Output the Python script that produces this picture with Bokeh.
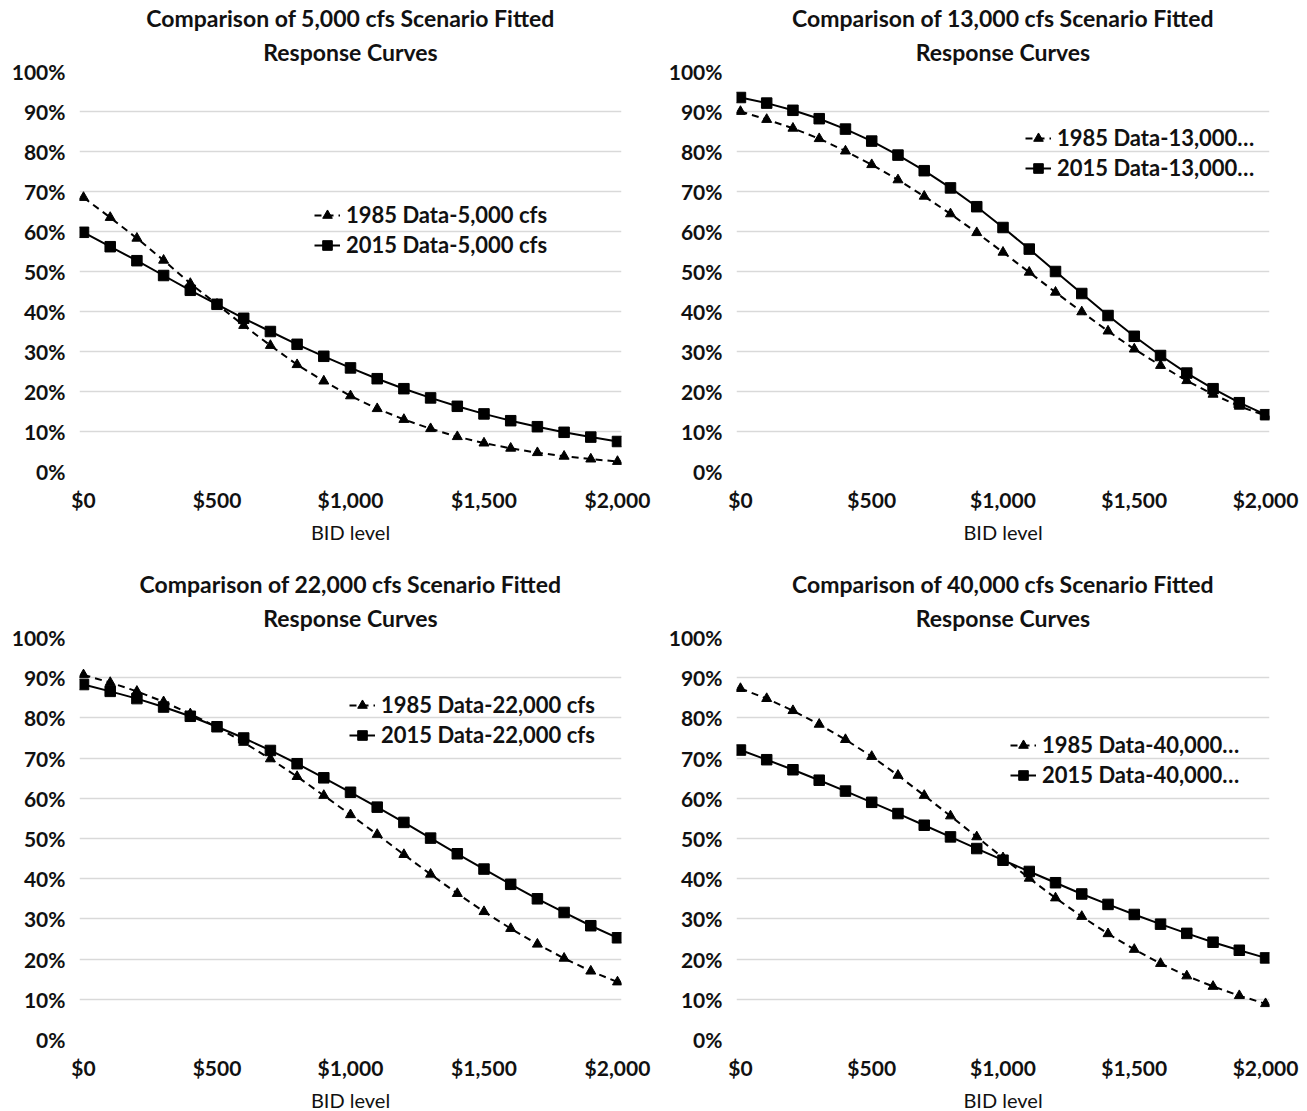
from bokeh.plotting import figure
from bokeh.layouts import column, row
from bokeh.models import (Range1d, Title, Legend, LegendItem, FixedTicker,
                          PrintfTickFormatter, NumeralTickFormatter)
from bokeh.embed import file_html
from bokeh.resources import INLINE

bid = [0, 100, 200, 300, 400, 500, 600, 700, 800, 900, 1000,
       1100, 1200, 1300, 1400, 1500, 1600, 1700, 1800, 1900, 2000]

s5k_1985 = [68.5, 63.5, 58.3, 52.8, 47.0, 41.8, 36.5, 31.5, 26.7, 22.6, 18.9,
            15.7, 13.0, 10.7, 8.7, 7.1, 5.8, 4.7, 3.8, 3.1, 2.5]
s5k_2015 = [59.8, 56.2, 52.7, 49.0, 45.3, 41.8, 38.3, 35.0, 31.8, 28.8, 25.9,
            23.2, 20.7, 18.4, 16.3, 14.4, 12.7, 11.2, 9.8, 8.6, 7.5]

s13k_1985 = [90.0, 88.0, 85.8, 83.2, 80.1, 76.7, 72.9, 68.8, 64.4, 59.7, 54.8,
             49.8, 44.8, 39.9, 35.1, 30.6, 26.5, 22.7, 19.3, 16.3, 14.0]
s13k_2015 = [93.5, 92.1, 90.3, 88.2, 85.6, 82.6, 79.1, 75.2, 70.9, 66.2, 61.0,
             55.6, 50.0, 44.5, 39.0, 33.8, 29.0, 24.6, 20.7, 17.2, 14.2]

s22k_1985 = [90.7, 88.8, 86.6, 84.0, 81.0, 77.7, 73.9, 69.8, 65.4, 60.7, 55.9,
             51.0, 46.0, 41.1, 36.3, 31.8, 27.6, 23.7, 20.2, 17.0, 14.3]
s22k_2015 = [88.3, 86.6, 84.8, 82.7, 80.4, 77.8, 75.0, 71.9, 68.6, 65.1, 61.5,
             57.8, 54.0, 50.1, 46.2, 42.4, 38.6, 35.0, 31.6, 28.3, 25.3]

s40k_1985 = [87.3, 84.8, 81.8, 78.4, 74.6, 70.4, 65.7, 60.7, 55.6, 50.4, 45.2,
             40.1, 35.2, 30.6, 26.3, 22.4, 18.9, 15.8, 13.2, 10.9, 8.9]
s40k_2015 = [72.0, 69.6, 67.1, 64.5, 61.8, 59.0, 56.2, 53.3, 50.4, 47.5, 44.6,
             41.8, 39.0, 36.2, 33.6, 31.1, 28.7, 26.4, 24.2, 22.2, 20.3]

titles = ["Comparison of 5,000 cfs Scenario Fitted",
          "Comparison of 13,000 cfs Scenario Fitted",
          "Comparison of 22,000 cfs Scenario Fitted",
          "Comparison of 40,000 cfs Scenario Fitted"]
subtitle = "Response Curves"
labels_1985 = ["1985 Data-5,000 cfs", "1985 Data-13,000\u2026",
               "1985 Data-22,000 cfs", "1985 Data-40,000\u2026"]
labels_2015 = ["2015 Data-5,000 cfs", "2015 Data-13,000\u2026",
               "2015 Data-22,000 cfs", "2015 Data-40,000\u2026"]
x_ticks = [0, 500, 1000, 1500, 2000]
y_ticks = [0, 10, 20, 30, 40, 50, 60, 70, 80, 90, 100]
x_label = "BID level"

FONT = "Lato"
TXT = "#111111"


def make_panel(idx, y85, y15, fw, fh, bl, br, bt, bb, leg_xy):
    p = figure(frame_width=fw, frame_height=fh,
               min_border_left=bl, min_border_right=br,
               min_border_top=bt, min_border_bottom=bb,
               output_backend="svg", toolbar_location=None,
               x_range=Range1d(-15, 2015), y_range=Range1d(0, 100))
    p.outline_line_color = None
    p.add_layout(Title(text=subtitle, align="center", text_font=FONT,
                       text_font_size="23px", text_font_style="bold",
                       text_color=TXT, standoff=11), "above")
    p.add_layout(Title(text=titles[idx], align="center", text_font=FONT,
                       text_font_size="23px", text_font_style="bold",
                       text_color=TXT, standoff=-2), "above")

    r1l = p.line(bid, y85, line_color="black", line_width=2, line_dash="7 5")
    r1m = p.scatter(bid, y85, marker="triangle", size=10, color="black")
    r2l = p.line(bid, y15, line_color="black", line_width=2)
    r2m = p.scatter(bid, y15, marker="square", size=10.5, color="black")

    legend = Legend(items=[LegendItem(label=labels_1985[idx], renderers=[r1l, r1m]),
                           LegendItem(label=labels_2015[idx], renderers=[r2l, r2m])],
                    location=leg_xy, padding=0, margin=0, spacing=3,
                    glyph_width=26, glyph_height=24, label_height=24,
                    label_standoff=6,
                    label_text_font=FONT, label_text_font_size="22px",
                    label_text_font_style="bold", label_text_color=TXT,
                    border_line_color=None, background_fill_alpha=0)
    p.add_layout(legend, "center")

    p.xaxis.ticker = FixedTicker(ticks=x_ticks)
    p.xaxis.formatter = NumeralTickFormatter(format="$0,0")
    p.yaxis.ticker = FixedTicker(ticks=y_ticks)
    p.yaxis.formatter = PrintfTickFormatter(format="%d%%")
    for ax in (p.xaxis[0], p.yaxis[0]):
        ax.axis_line_color = None
        ax.major_tick_line_color = None
        ax.minor_tick_line_color = None
        ax.major_label_text_font = FONT
        ax.major_label_text_font_size = "21px"
        ax.major_label_text_font_style = "bold"
        ax.major_label_text_color = TXT
    p.xaxis.major_label_standoff = 9
    p.yaxis.major_label_standoff = 8
    p.xaxis.axis_label = x_label
    p.xaxis.axis_label_text_font = FONT
    p.xaxis.axis_label_text_font_size = "20px"
    p.xaxis.axis_label_text_font_style = "normal"
    p.xaxis.axis_label_text_color = TXT
    p.xaxis.axis_label_standoff = 5
    p.xgrid.grid_line_color = None
    p.ygrid.grid_line_color = "#d9d9d9"
    p.ygrid.grid_line_width = 1.5
    return p


p1 = make_panel(0, s5k_1985, s5k_2015, 542, 400, 79, 35, 71, 85, (235, 213))
p2 = make_panel(1, s13k_1985, s13k_2015, 533, 400, 80, 30, 71, 85, (289, 290))
p3 = make_panel(2, s22k_1985, s22k_2015, 542, 402, 79, 35, 81, 63, (270, 291))
p4 = make_panel(3, s40k_1985, s40k_2015, 533, 402, 80, 30, 81, 63, (274, 251))

layout = column(row(p1, p2), row(p3, p4))
open("out.html", "w").write(file_html(layout, INLINE))
